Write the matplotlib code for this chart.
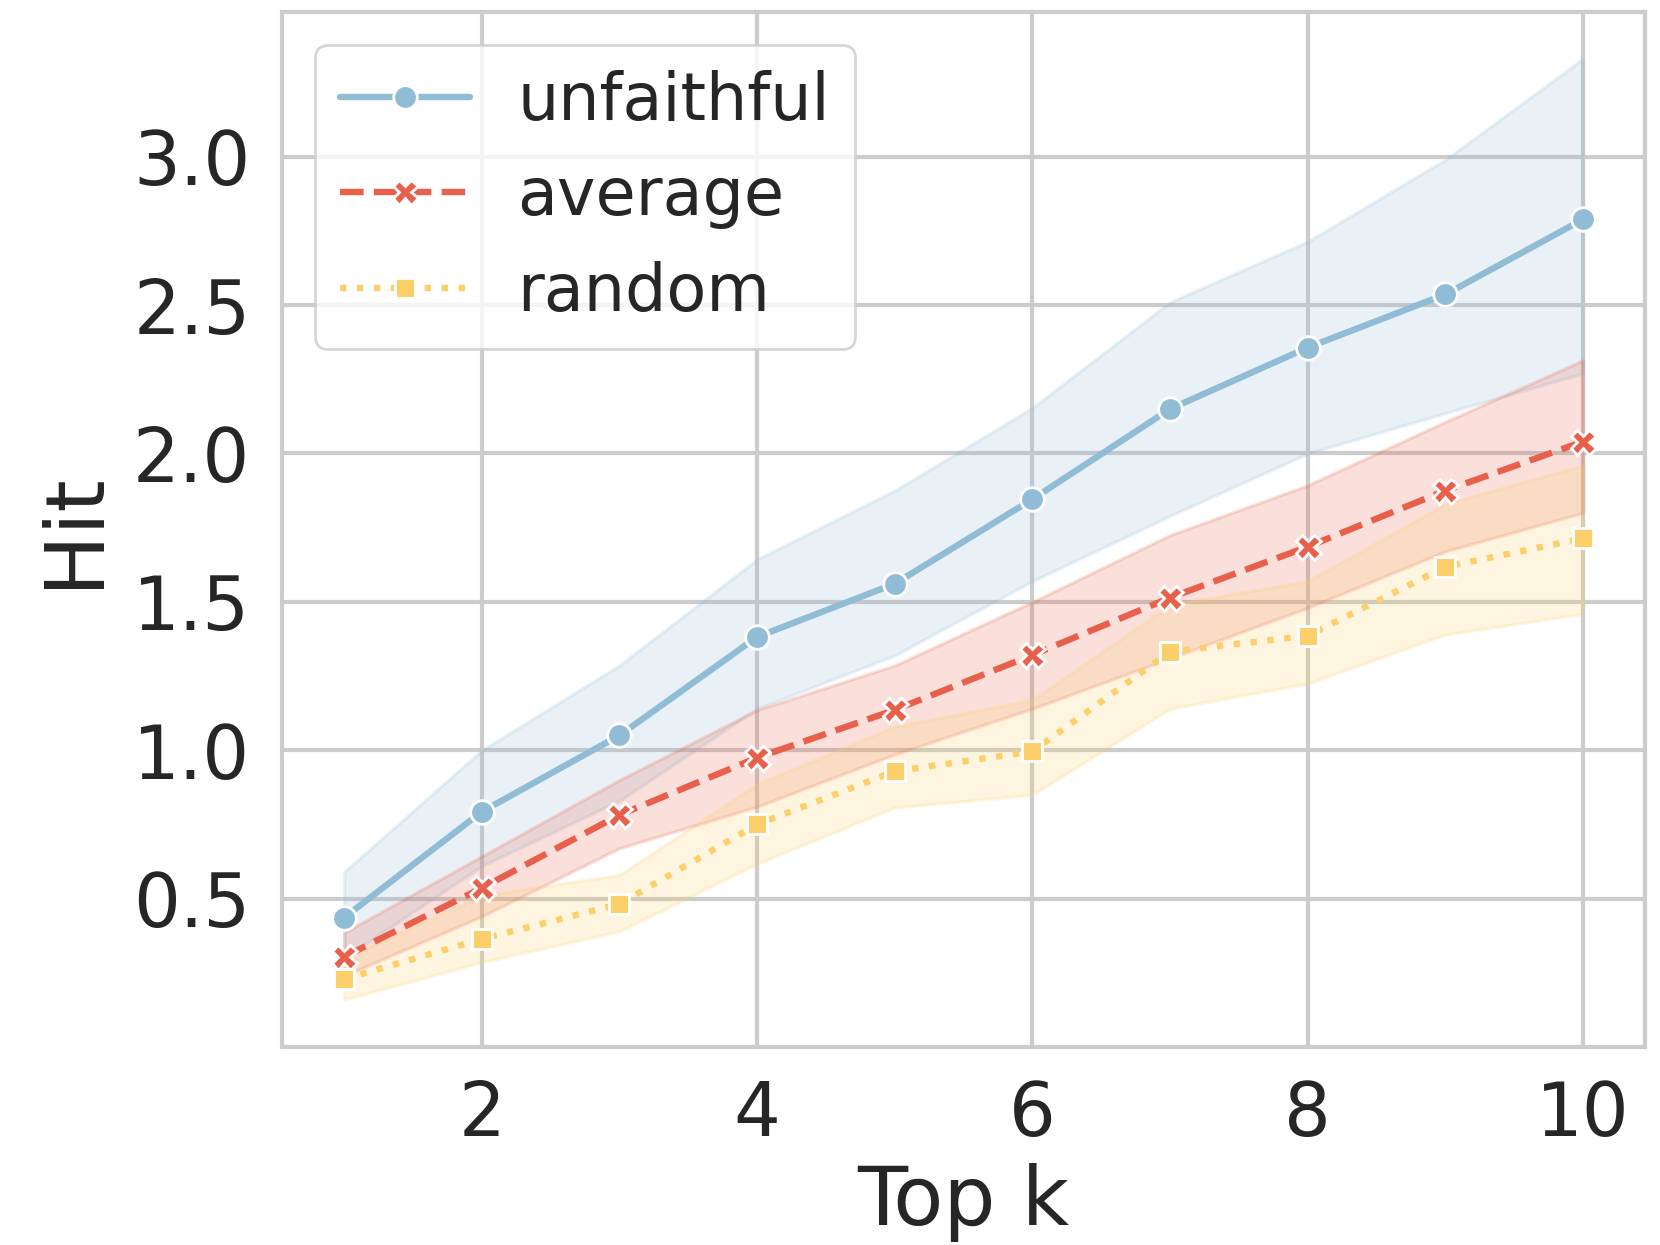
import matplotlib
matplotlib.use("Agg")
import matplotlib.pyplot as plt
import seaborn as sns

sns.set_style("whitegrid")
plt.rcParams['font.family'] = ['DejaVu Sans']

topk = [1, 2, 3, 4, 5, 6, 7, 8, 9, 10]

# mean values
unfaithful = [0.436, 0.793, 1.05, 1.382, 1.561, 1.846, 2.15, 2.357, 2.536, 2.789]
average = [0.304, 0.536, 0.782, 0.975, 1.136, 1.321, 1.514, 1.686, 1.875, 2.04]
random_ = [0.229, 0.364, 0.482, 0.75, 0.929, 0.996, 1.332, 1.386, 1.618, 1.714]

# confidence bands
unf_lo = [0.30, 0.61, 0.83, 1.14, 1.32, 1.57, 1.79, 2.00, 2.136, 2.27]
unf_hi = [0.59, 1.00, 1.286, 1.643, 1.875, 2.154, 2.51, 2.714, 2.99, 3.33]
avg_lo = [0.24, 0.44, 0.67, 0.81, 0.986, 1.14, 1.31, 1.48, 1.67, 1.80]
avg_hi = [0.386, 0.643, 0.90, 1.136, 1.286, 1.50, 1.725, 1.893, 2.107, 2.314]
rnd_lo = [0.16, 0.286, 0.39, 0.618, 0.807, 0.85, 1.14, 1.225, 1.39, 1.46]
rnd_hi = [0.30, 0.51, 0.58, 0.886, 1.08, 1.17, 1.49, 1.57, 1.83, 1.96]

blue = "#91bcd6"
red = "#e8604c"
yellow = "#fdcf6b"

fig = plt.figure(figsize=(8.3, 6.225), dpi=200)
ax = fig.add_subplot(111)
fig.subplots_adjust(left=0.170, right=0.991, bottom=0.159, top=0.990)

series = [
    ("unfaithful", unfaithful, unf_lo, unf_hi, blue, "-", "o", 8.5),
    ("average", average, avg_lo, avg_hi, red, "--", "X", 9),
    ("random", random_, rnd_lo, rnd_hi, yellow, ":", "s", 7.5),
]
for name, y, lo, hi, c, ls, mk, ms in series:
    ax.fill_between(topk, lo, hi, color=c, alpha=0.2, linewidth=1.2)
    ax.plot(topk, y, color=c, linestyle=ls, marker=mk, markersize=ms,
            markeredgecolor="white", markeredgewidth=1.0, linewidth=2.3,
            label=name)

ax.set_xlim(0.55, 10.45)
ax.set_ylim(0.0, 3.486)
ax.set_xticks([2, 4, 6, 8, 10])
ax.set_yticks([0.5, 1.0, 1.5, 2.0, 2.5, 3.0])
ax.tick_params(labelsize=26.5, pad=8)
ax.set_xlabel("Top k", fontsize=29.5, labelpad=4)
ax.set_ylabel("Hit", fontsize=29.5, labelpad=7)
for s in ax.spines.values():
    s.set_linewidth(1.5)
    s.set_color("#cccccc")
ax.grid(linewidth=1.5, color="#cccccc")

ax.legend(loc="upper left", fontsize=23.5, handlelength=2.0, borderpad=0.38,
          labelspacing=0.48, handletextpad=0.72, framealpha=0.8,
          borderaxespad=0.5)

fig.savefig("out.png", dpi=200)
